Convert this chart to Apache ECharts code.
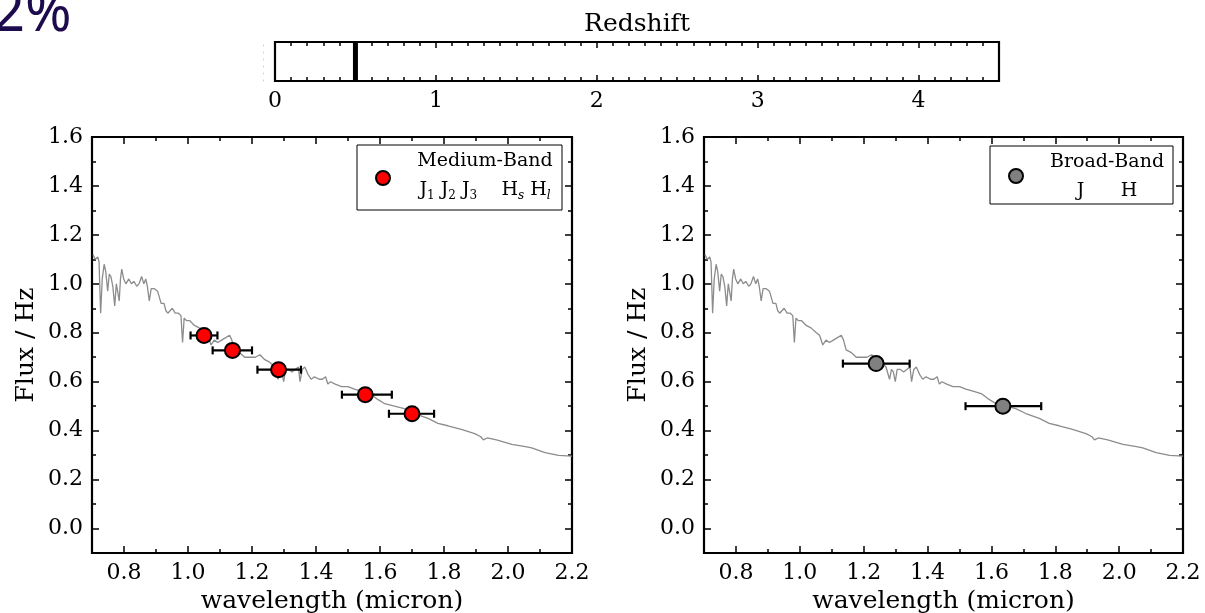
<!DOCTYPE html>
<html><head><meta charset="utf-8">
<script src="https://cdn.jsdelivr.net/npm/echarts@6/dist/echarts.min.js"></script>
<style>html,body{margin:0;padding:0;background:#fff;} #c{width:1205px;height:613px;}</style>
</head><body><div id="c"></div>
<script>
// ---------- data ----------
const specWave = [0.703,0.710,0.718,0.722,0.727,0.732,0.738,0.743,0.749,0.754,0.759,0.765,0.771,0.776,0.780,0.785,0.789,0.793,0.799,0.806,0.815,0.823,0.831,0.840,0.847,0.855,0.862,0.868,0.873,0.879,0.885,0.895,0.905,0.916,0.925,0.931,0.937,0.951,0.960,0.970,0.978,0.983,0.988,0.995,1.005,1.020,1.035,1.052,1.062,1.072,1.082,1.093,1.105,1.118,1.130,1.137,1.145,1.160,1.177,1.195,1.210,1.225,1.240,1.255,1.270,1.281,1.287,1.293,1.299,1.305,1.315,1.325,1.335,1.345,1.350,1.357,1.365,1.375,1.385,1.395,1.410,1.420,1.430,1.437,1.445,1.460,1.480,1.500,1.520,1.545,1.570,1.590,1.615,1.645,1.676,1.708,1.750,1.781,1.812,1.854,1.896,1.915,1.923,1.935,1.964,2.012,2.050,2.074,2.116,2.158,2.200];
const specFlux = [1.12,1.10,1.11,1.09,0.88,1.02,1.08,1.05,0.97,1.04,1.03,0.99,0.91,1.00,0.97,0.93,1.02,1.06,1.02,1.00,1.02,1.00,1.01,0.99,1.00,1.03,1.00,1.02,0.99,0.93,0.98,0.98,0.97,0.92,0.92,0.89,0.88,0.90,0.88,0.88,0.87,0.76,0.86,0.85,0.85,0.83,0.82,0.80,0.79,0.75,0.77,0.76,0.77,0.78,0.79,0.77,0.73,0.72,0.70,0.70,0.70,0.71,0.69,0.68,0.66,0.61,0.65,0.64,0.60,0.65,0.65,0.64,0.65,0.66,0.60,0.65,0.66,0.63,0.61,0.62,0.61,0.61,0.62,0.59,0.60,0.59,0.58,0.58,0.57,0.56,0.55,0.53,0.51,0.50,0.49,0.47,0.45,0.43,0.42,0.405,0.388,0.375,0.362,0.370,0.362,0.344,0.336,0.330,0.310,0.299,0.296];

const mbWave = [1.050, 1.139, 1.283, 1.554, 1.700];
const mbFlux = [0.789, 0.728, 0.649, 0.547, 0.469];
const mbLo   = [1.008, 1.077, 1.217, 1.481, 1.628];
const mbHi   = [1.092, 1.200, 1.353, 1.637, 1.769];

const bbWave = [1.239, 1.636];
const bbFlux = [0.674, 0.500];
const bbLo   = [1.135, 1.519];
const bbHi   = [1.344, 1.756];

const redshift = [0.5];

const xMajor = [0.8, 1.0, 1.2, 1.4, 1.6, 1.8, 2.0, 2.2];
const xMinor = [0.9, 1.1, 1.3, 1.5, 1.7, 1.9, 2.1];
const yMajor = [0.0, 0.2, 0.4, 0.6, 0.8, 1.0, 1.2, 1.4, 1.6];
const yMinor = [0.1, 0.3, 0.5, 0.7, 0.9, 1.1, 1.3, 1.5];
const zMajor = [0, 1, 2, 3, 4];
const zMinor = [0.1,0.2,0.3,0.4,0.5,0.6,0.7,0.8,0.9,1.1,1.2,1.3,1.4,1.5,1.6,1.7,1.8,1.9,2.1,2.2,2.3,2.4,2.5,2.6,2.7,2.8,2.9,3.1,3.2,3.3,3.4,3.5,3.6,3.7,3.8,3.9,4.1,4.2,4.3,4.4];

// ---------- helpers ----------
const FONT = 'DejaVu Serif';
const fmt1 = v => Number(v).toFixed(1);
const fmt0 = v => String(Math.round(v));
const tickStyle = {color:'#000', width:1.5};

function axisSet(dim, g, min, max, major, minor, fmt, name, nameGap, pos, majLen, minLen) {
  const base = {type:'value', gridIndex:g, min, max, splitLine:{show:false}, axisLine:{show:false, onZero:false}, axisPointer:{show:false}};
  const a = Object.assign({}, base, {position:pos[0],
    axisTick:{show:true, inside:true, length:majLen, customValues:major, lineStyle:tickStyle},
    axisLabel:{show:true, customValues:major, formatter:fmt, margin:9, color:'#000', fontFamily:FONT, fontSize:22},
    name:name, nameLocation:'middle', nameGap:nameGap, nameRotate: dim==='y'?90:0,
    nameTextStyle:{color:'#000', fontFamily:FONT, fontSize:25}});
  const b = Object.assign({}, base, {position:pos[1],
    axisTick:{show:true, inside:true, length:majLen, customValues:major, lineStyle:tickStyle},
    axisLabel:{show:false}});
  const c = Object.assign({}, base, {position:pos[1],
    axisTick:{show:true, inside:true, length:minLen, customValues:minor, lineStyle:tickStyle},
    axisLabel:{show:false}});
  const d = Object.assign({}, base, {position:pos[0],
    axisTick:{show:true, inside:true, length:minLen, customValues:minor, lineStyle:tickStyle},
    axisLabel:{show:false}});
  return [a, b, c, d];
}

function errRender(params, api) {
  const y = api.value(1);
  const p1 = api.coord([api.value(2), y]);
  const p2 = api.coord([api.value(3), y]);
  const h = 4;
  const st = {stroke:'#000', lineWidth:2.2};
  return {type:'group', children:[
    {type:'line', shape:{x1:p1[0], y1:p1[1], x2:p2[0], y2:p2[1]}, style:st},
    {type:'line', shape:{x1:p1[0], y1:p1[1]-h, x2:p1[0], y2:p1[1]+h}, style:st},
    {type:'line', shape:{x1:p2[0], y1:p2[1]-h, x2:p2[0], y2:p2[1]+h}, style:st}
  ]};
}
function zRender(params, api) {
  const z = api.value(0);
  const p1 = api.coord([z, 0]);
  const p2 = api.coord([z, 1]);
  return {type:'line', shape:{x1:p1[0], y1:p1[1], x2:p2[0], y2:p2[1]}, style:{stroke:'#000', lineWidth:5}};
}

const spec = specWave.map((w, i) => [w, specFlux[i]]);
const mb = mbWave.map((w, i) => [w, mbFlux[i], mbLo[i], mbHi[i]]);
const bb = bbWave.map((w, i) => [w, bbFlux[i], bbLo[i], bbHi[i]]);

const gridBox = {show:true, borderColor:'#000', borderWidth:2.2, backgroundColor:'#fff', containLabel:false, outerBoundsMode:'none'};

const xAxes = [].concat(
  axisSet('x', 0, 0.7, 2.2, xMajor, xMinor, fmt1, 'wavelength (micron)', 33, ['bottom','top'], 7, 4),
  axisSet('x', 1, 0.7, 2.2, xMajor, xMinor, fmt1, 'wavelength (micron)', 33, ['bottom','top'], 7, 4),
  axisSet('x', 2, 0, 4.5, zMajor, zMinor, fmt0, '', 0, ['bottom','top'], 6, 4)
);
// Redshift title as the top axis name
xAxes[9].name = 'Redshift';
xAxes[9].nameLocation = 'middle';
xAxes[9].nameGap = 5;
xAxes[9].nameTextStyle = {color:'#000', fontFamily:FONT, fontSize:25};

const yAxes = [].concat(
  axisSet('y', 0, -0.1, 1.6, yMajor, yMinor, fmt1, 'Flux / Hz', 53, ['left','right'], 7, 4),
  axisSet('y', 1, -0.1, 1.6, yMajor, yMinor, fmt1, 'Flux / Hz', 53, ['left','right'], 7, 4),
  [{type:'value', gridIndex:2, min:0, max:1, position:'left', offset:12,
    axisLine:{show:true, onZero:false, lineStyle:{color:'#cfcfcf', width:1, type:[1,6]}},
    axisTick:{show:false}, axisLabel:{show:false}, splitLine:{show:false}}]
);

function legendGraphic(x, y, w, h, cx, cy, fill, line1, line2, tx) {
  return [
    {type:'rect', shape:{x:x, y:y, width:w, height:h}, style:{fill:'#fff', stroke:'#000', lineWidth:1}, z:100},
    {type:'circle', shape:{cx:cx, cy:cy, r:7}, style:{fill:fill, stroke:'#000', lineWidth:2}, z:101},
    {type:'text', x:tx, y:y+16, style:{text:line1, fill:'#000', font:'19px "DejaVu Serif"', align:'center', verticalAlign:'middle'}, z:101},
    {type:'text', x:tx, y:y+45, style:{text:line2, align:'center', verticalAlign:'middle',
      rich:{
        n:{fontFamily:FONT, fontSize:19, color:'#000', lineHeight:24, verticalAlign:'middle'},
        s:{fontFamily:FONT, fontSize:12, color:'#000', lineHeight:12, verticalAlign:'bottom'},
        si:{fontFamily:FONT, fontSize:12, fontStyle:'italic', color:'#000', lineHeight:12, verticalAlign:'bottom'}
      }}, z:101}
  ];
}

const option = {
  animation:false,
  backgroundColor:'#fff',
  textStyle:{fontFamily:FONT},
  grid:[
    Object.assign({left:92, top:137, width:480, height:416}, gridBox),
    Object.assign({left:704, top:137, width:479, height:416}, gridBox),
    Object.assign({left:275, top:42, width:724, height:39}, gridBox)
  ],
  xAxis: xAxes,
  yAxis: yAxes,
  series:[
    {type:'line', name:'spec1', xAxisIndex:0, yAxisIndex:0, data:spec, showSymbol:false, symbol:'none',
     lineStyle:{color:'#8c8c8c', width:1.3}, z:1, silent:true},
    {type:'custom', name:'mbErr', xAxisIndex:0, yAxisIndex:0, data:mb, renderItem:errRender, encode:{x:[0,2,3], y:1}, z:3},
    {type:'scatter', name:'Medium-Band', xAxisIndex:0, yAxisIndex:0, data:mb.map(d=>[d[0],d[1]]), symbol:'circle', symbolSize:15,
     itemStyle:{color:'#ff0000', borderColor:'#000', borderWidth:2, opacity:1}, z:4},
    {type:'line', name:'spec2', xAxisIndex:4, yAxisIndex:4, data:spec, showSymbol:false, symbol:'none',
     lineStyle:{color:'#8c8c8c', width:1.3}, z:1, silent:true},
    {type:'custom', name:'bbErr', xAxisIndex:4, yAxisIndex:4, data:bb, renderItem:errRender, encode:{x:[0,2,3], y:1}, z:3},
    {type:'scatter', name:'Broad-Band', xAxisIndex:4, yAxisIndex:4, data:bb.map(d=>[d[0],d[1]]), symbol:'circle', symbolSize:15,
     itemStyle:{color:'#808080', borderColor:'#000', borderWidth:2, opacity:1}, z:4},
    {type:'custom', name:'z', xAxisIndex:8, yAxisIndex:8, data:redshift.map(z=>[z]), renderItem:zRender, encode:{x:0}, z:3}
  ],
  graphic:[].concat(
    [{type:'text', x:-7, y:15, style:{text:'2%', fill:'#1d0b4d', font:'56px "Noto Sans"', verticalAlign:'middle'}}],
    legendGraphic(357, 145, 205, 65, 383, 178, '#ff0000', 'Medium-Band',
      '{n|J}{s|1}{n| J}{s|2}{n| J}{s|3}{n|    H}{si|s}{n| H}{si|l}', 485),
    legendGraphic(990, 146, 183, 58, 1016, 176, '#808080', 'Broad-Band', '{n|J      H}', 1107)
  )
};

const chart = echarts.init(document.getElementById('c'), null, {renderer:'canvas'});
chart.setOption(option);
</script>
</body></html>
